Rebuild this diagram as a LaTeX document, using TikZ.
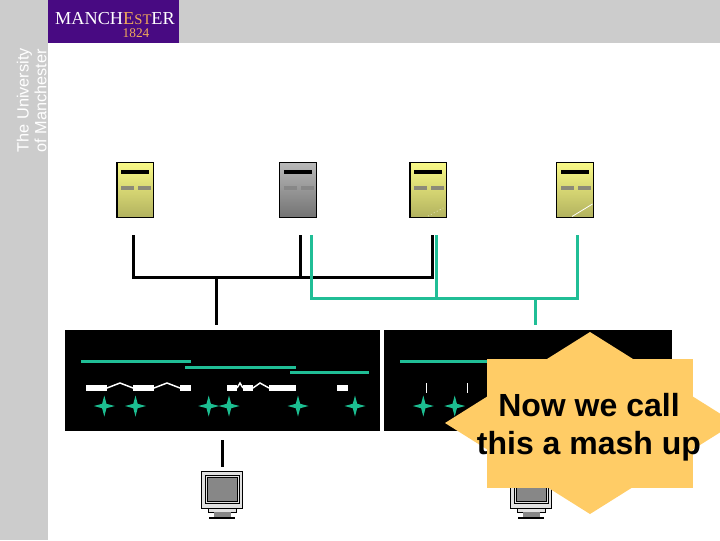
\documentclass[tikz,border=0pt]{standalone}
\usepackage{fontspec}
\setmainfont{Liberation Sans}
\newfontfamily\logoserif{Liberation Serif}
\definecolor{hdrgrey}{RGB}{204,204,204}
\definecolor{logopurple}{RGB}{72,10,130}
\definecolor{logoorange}{RGB}{240,170,90}
\definecolor{teal}{RGB}{32,190,150}
\definecolor{starteal}{RGB}{28,190,145}
\definecolor{mash}{RGB}{255,204,102}
\definecolor{dashgrey}{RGB}{140,138,120}
\definecolor{dashgreyb}{RGB}{135,135,135}
\definecolor{yellowhi}{RGB}{250,250,135}
\definecolor{yellowlo}{RGB}{178,178,95}
\definecolor{greyhi}{RGB}{185,185,185}
\definecolor{greylo}{RGB}{115,115,115}
\definecolor{screengrey}{RGB}{135,135,135}
\definecolor{casegrey}{RGB}{225,225,225}
\tikzset{
  x=0.75pt,y=-0.75pt,
  blackwire/.style={draw=black,line width=2.25pt},
  tealwire/.style={draw=teal,line width=2.25pt},
  serverbox/.style={draw=black,line width=0.8pt,inner sep=0pt,minimum width=27.5pt,minimum height=41.25pt,shading angle=-55},
  goldbox/.style={serverbox,top color=yellowhi,bottom color=yellowlo},
  greybox/.style={serverbox,top color=greyhi,bottom color=greylo},
  panel/.style={fill=black,draw=none,inner sep=0pt,minimum height=75.75pt,anchor=north west},
  tealbar/.style={fill=teal,draw=none},
  whitebar/.style={fill=white,draw=none},
  zig/.style={draw=white,line width=1.1pt},
  tick/.style={draw=white,line width=0.6pt},
  sparkle/.style={fill=starteal,draw=none},
  mashfill/.style={fill=mash,draw=none},
  logotext/.style={inner sep=0pt,text=white,font=\logoserif},
  sidetext/.style={inner sep=0pt,text=white,rotate=90,anchor=west,font=\fontsize{12.2}{12.2}\selectfont},
  masht/.style={inner sep=0pt,align=center,text=black,font=\fontsize{24}{28.5}\selectfont\bfseries},
  screenbox/.style={draw=black,line width=0.5pt,fill=casegrey}
}
\newcommand{\serverbars}[2]{%
  \fill[black] ([shift={(-14,-20)}]#1.center) rectangle ([shift={(14,-16)}]#1.center);
  \fill[#2] ([shift={(-14,-4)}]#1.center) rectangle ([shift={(-1,0)}]#1.center);
  \fill[#2] ([shift={(3,-4)}]#1.center) rectangle ([shift={(16,0)}]#1.center);
}
\newcommand{\sparkleat}[1]{%
  \fill[sparkle] (#1,406) ++(-10.5,0) -- ++(8.3,-2.2) -- ++(2.2,-8.3) -- ++(2.2,8.3) -- ++(8.3,2.2) -- ++(-8.3,2.2) -- ++(-2.2,8.3) -- ++(-2.2,-8.3) -- cycle;
}
\newcommand{\monitorat}[1]{%
  \begin{scope}[xshift=#1*0.75pt]
    \fill[casegrey] (208,508) rectangle (236,512);
    \draw[line width=0.5pt] (208,508) rectangle (236,512);
    \fill[screengrey] (214,512) rectangle (231,517);
    \fill[black] (209,516.5) rectangle (235,518.5);
    \draw[screenbox] (201,471.5) rectangle (242,508);
    \draw[line width=0.7pt,fill=casegrey] (205,475.5) rectangle (239,503);
    \draw[line width=0.4pt,fill=screengrey] (207,477.5) rectangle (237,501);
  \end{scope}
}
\begin{document}
\begin{tikzpicture}
\useasboundingbox (0,0) rectangle (720,540);
\fill[white] (0,0) rectangle (720,540);
% header
\fill[hdrgrey] (0,0) rectangle (720,42.5);
\fill[hdrgrey] (0,0) rectangle (48,540);
\fill[logopurple] (48,0) rectangle (179,42.5);
\node[logotext,anchor=base] (wordmark) at (115,24.5) {\fontsize{13.7}{13.7}\selectfont MANCH\textcolor{logoorange}{E\fontsize{11}{11}\selectfont ST}\fontsize{13.7}{13.7}\selectfont ER};
\node[logotext,anchor=base,text=logoorange] (year) at (136,37.5) {\fontsize{10}{10}\selectfont 1824};
\node[sidetext] (univ) at (24.5,152.5) {The University};
\node[sidetext] (ofman) at (40.5,152.5) {of Manchester};
% servers
\node[goldbox] (s1) at (135.3,189.8) {};
\node[greybox] (s2) at (298,189.8) {};
\node[goldbox] (s3) at (428.3,189.8) {};
\node[goldbox] (s4) at (574.8,189.8) {};
\serverbars{s1}{dashgrey}
\serverbars{s2}{dashgreyb}
\serverbars{s3}{dashgrey}
\serverbars{s4}{dashgrey}
\draw[white,line width=0.5pt,dotted] (428,216) -- (445,207);
\draw[white,line width=0.6pt] (572,216.5) -- (592.5,204);
% wire coordinates
\coordinate (a1) at (133.5,235);
\coordinate (a2) at (300.5,235);
\coordinate (a3) at (432,235);
\coordinate (b1) at (311.5,235);
\coordinate (b2) at (436,235);
\coordinate (b3) at (577.5,235);
\coordinate (abus1) at (133.5,277);
\coordinate (abus2) at (300.5,277);
\coordinate (abus3) at (432,277);
\coordinate (abus4) at (216.5,277);
\coordinate (aout) at (216.5,325);
\coordinate (bbus1) at (311.5,298);
\coordinate (bbus2) at (436,298);
\coordinate (bbus3) at (577.5,298);
\coordinate (bbus4) at (535,298);
\coordinate (bout) at (535,325);
\draw[blackwire,line join=miter] (a1) -- (abus1) -- (abus3) -- (a3);
\draw[blackwire] (a2) -- (abus2);
\draw[blackwire] (abus4) -- (aout);
\draw[tealwire,line join=miter] (b1) -- (bbus1) -- (bbus3) -- (b3);
\draw[tealwire] (b2) -- (bbus2);
\draw[tealwire] (bbus4) -- (bout);
% panels
\node[panel,minimum width=236.25pt] (p1) at (65,330) {};
\node[panel,minimum width=216pt] (p2) at (384,330) {};
\fill[tealbar] (81,360) rectangle (191,363);
\fill[tealbar] (185,366) rectangle (296,369);
\fill[tealbar] (290,371) rectangle (369,374);
\fill[tealbar] (400,360) rectangle (660,363);
\foreach \a/\b in {86/107,133/154,180/191,227/237,243/253,269/296,337/348}
  \fill[whitebar] (\a,385) rectangle (\b,391);
\draw[zig] (107,388) -- (120,383) -- (133,388);
\draw[zig] (154,388) -- (167,383) -- (180,388);
\draw[zig] (237,388) -- (240,383) -- (243,388);
\draw[zig] (253,388) -- (260,383) -- (269,388);
\draw[tick] (426.5,383) -- (426.5,393);
\draw[tick] (467.5,383) -- (467.5,393);
\foreach \x in {104.3,135.5,208.7,229,298,355,423.3,454.7}
  \sparkleat{\x}
% monitors
\coordinate (m1top) at (222.3,440);
\coordinate (m1bot) at (222.3,467);
\draw[blackwire] (m1top) -- (m1bot);
\monitorat{0}
\monitorat{309}
% callout
\fill[mashfill] (590,332) -- (735,423) -- (590,514) -- (445,423) -- cycle;
\fill[mashfill] (487,359) rectangle (693,488);
\node[masht] (callout) at (589,427) {Now we call\\this a mash up};
\end{tikzpicture}
\end{document}
